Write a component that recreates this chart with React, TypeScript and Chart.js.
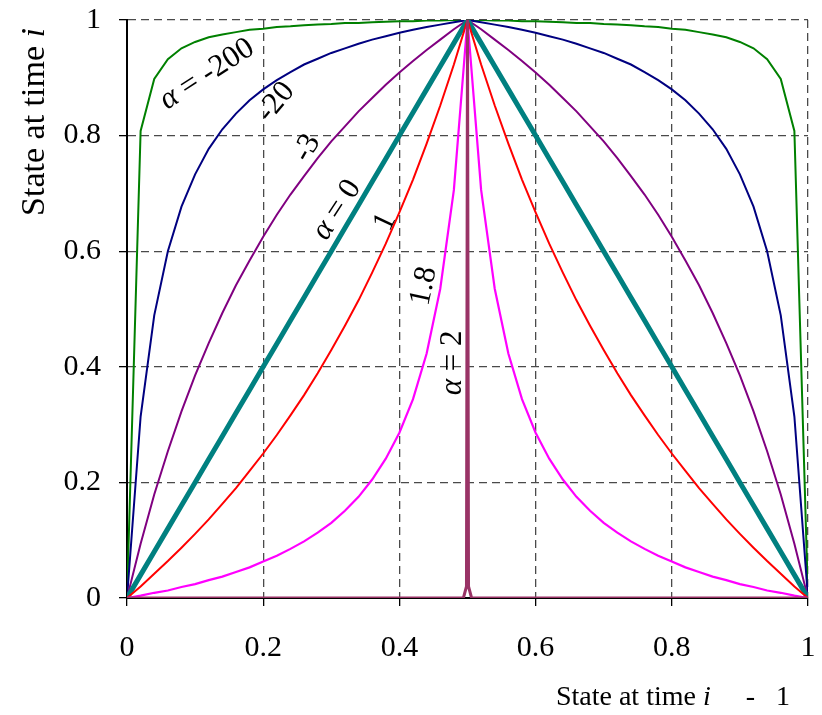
import React, { useEffect, useRef } from "react";
import { Chart, registerables } from "chart.js";

Chart.register(...registerables);

// ---------- data ----------
const xValues = [
  0, 0.02, 0.04, 0.06, 0.08, 0.1, 0.12, 0.14, 0.16, 0.18, 0.2, 0.22, 0.24, 0.26, 0.28, 0.3, 0.32,
  0.34, 0.36, 0.38, 0.4, 0.42, 0.44, 0.46, 0.48, 0.5, 0.52, 0.54, 0.56, 0.58, 0.6, 0.62, 0.64, 0.66,
  0.68, 0.7, 0.72, 0.74, 0.76, 0.78, 0.8, 0.82, 0.84, 0.86, 0.88, 0.9, 0.92, 0.94, 0.96, 0.98, 1,
];

const alphaM200 = [
  0, 0.808, 0.898, 0.932, 0.951, 0.962, 0.97, 0.975, 0.979, 0.983, 0.985, 0.988, 0.989, 0.991, 0.992,
  0.993, 0.995, 0.995, 0.996, 0.997, 0.998, 0.998, 0.999, 0.999, 1.0, 1,
  1.0, 0.999, 0.999, 0.998, 0.998, 0.997, 0.996, 0.995, 0.995, 0.993, 0.992, 0.991, 0.989, 0.988,
  0.985, 0.983, 0.979, 0.975, 0.97, 0.962, 0.951, 0.932, 0.898, 0.808, 0,
];

const alphaM20 = [
  0, 0.314, 0.489, 0.6, 0.677, 0.733, 0.777, 0.811, 0.838, 0.861, 0.88, 0.896, 0.91, 0.923, 0.933,
  0.943, 0.951, 0.959, 0.966, 0.972, 0.978, 0.983, 0.988, 0.992, 0.996, 1,
  0.996, 0.992, 0.988, 0.983, 0.978, 0.972, 0.966, 0.959, 0.951, 0.943, 0.933, 0.923, 0.91, 0.896,
  0.88, 0.861, 0.838, 0.811, 0.777, 0.733, 0.677, 0.6, 0.489, 0.314, 0,
];

const alphaM3 = [
  0, 0.094, 0.179, 0.254, 0.323, 0.385, 0.441, 0.493, 0.541, 0.584, 0.625, 0.663, 0.698, 0.73, 0.761,
  0.79, 0.816, 0.842, 0.865, 0.888, 0.909, 0.929, 0.948, 0.966, 0.984, 1,
  0.984, 0.966, 0.948, 0.929, 0.909, 0.888, 0.865, 0.842, 0.816, 0.79, 0.761, 0.73, 0.698, 0.663,
  0.625, 0.584, 0.541, 0.493, 0.441, 0.385, 0.323, 0.254, 0.179, 0.094, 0,
];

const alpha0 = [
  0, 0.04, 0.08, 0.12, 0.16, 0.2, 0.24, 0.28, 0.32, 0.36, 0.4, 0.44, 0.48, 0.52, 0.56, 0.6, 0.64,
  0.68, 0.72, 0.76, 0.8, 0.84, 0.88, 0.92, 0.96, 1,
  0.96, 0.92, 0.88, 0.84, 0.8, 0.76, 0.72, 0.68, 0.64, 0.6, 0.56, 0.52, 0.48, 0.44, 0.4, 0.36, 0.32,
  0.28, 0.24, 0.2, 0.16, 0.12, 0.08, 0.04, 0,
];

const alpha1 = [
  0, 0.02, 0.042, 0.064, 0.087, 0.111, 0.136, 0.163, 0.19, 0.22, 0.25, 0.282, 0.316, 0.351, 0.389,
  0.429, 0.471, 0.515, 0.563, 0.613, 0.667, 0.724, 0.786, 0.852, 0.923, 1,
  0.923, 0.852, 0.786, 0.724, 0.667, 0.613, 0.563, 0.515, 0.471, 0.429, 0.389, 0.351, 0.316, 0.282,
  0.25, 0.22, 0.19, 0.163, 0.136, 0.111, 0.087, 0.064, 0.042, 0.02, 0,
];

const alpha18 = [
  0, 0.004, 0.009, 0.013, 0.019, 0.024, 0.031, 0.037, 0.045, 0.053, 0.063, 0.073, 0.085, 0.098,
  0.113, 0.13, 0.151, 0.175, 0.205, 0.241, 0.286, 0.344, 0.423, 0.535, 0.706, 1,
  0.706, 0.535, 0.423, 0.344, 0.286, 0.241, 0.205, 0.175, 0.151, 0.13, 0.113, 0.098, 0.085, 0.073,
  0.063, 0.053, 0.045, 0.037, 0.031, 0.024, 0.019, 0.013, 0.009, 0.004, 0,
];

const alpha2X = [0, 0.494, 0.4985, 0.5, 0.5015, 0.506, 1];
const alpha2Y = [0, 0, 0.02, 1, 0.02, 0, 0];

const tickValues = [0, 0.2, 0.4, 0.6, 0.8, 1];
const xTickLabels = ["0", "0.2", "0.4", "0.6", "0.8", "1"];
const yTickLabels = ["0", "0.2", "0.4", "0.6", "0.8", "1"];

// text parts: [text, italic]
type Part = [string, boolean];
const annotations: { parts: Part[]; x: number; y: number; angle: number }[] = [
  { parts: [["α", true], [" = -200", false]], x: 0.1175, y: 0.906, angle: -33 },
  { parts: [["-20", false]], x: 0.2188, y: 0.858, angle: -50 },
  { parts: [["-3", false]], x: 0.2643, y: 0.7785, angle: -60 },
  { parts: [["α", true], [" = 0", false]], x: 0.3084, y: 0.6713, angle: -57 },
  { parts: [["1", false]], x: 0.3789, y: 0.6505, angle: -65 },
  { parts: [["1.8", false]], x: 0.4361, y: 0.5398, angle: -78 },
  { parts: [["α", true], [" = 2", false]], x: 0.4787, y: 0.4066, angle: -90 },
];

const xTitle: Part[] = [["State at time ", false], ["i", true], ["     -   1", false]];
const yTitle: Part[] = [["State at time ", false], ["i", true]];

const FONT = '"Liberation Serif", "Times New Roman", serif';
const TICK_SIZE = 30;
const X_TITLE_SIZE = 28;
const Y_TITLE_SIZE = 34;
const ANNOT_SIZE = 31;

function drawParts(
  ctx: CanvasRenderingContext2D,
  parts: Part[],
  x: number,
  y: number,
  angle: number,
  align: "left" | "center" | "right",
  size: number
) {
  const fonts = parts.map(([, it]) => `${it ? "italic " : ""}${size}px ${FONT}`);
  const widths = parts.map(([t], i) => {
    ctx.font = fonts[i];
    return ctx.measureText(t).width;
  });
  const total = widths.reduce((a, b) => a + b, 0);
  let start = align === "center" ? -total / 2 : align === "right" ? -total : 0;
  ctx.save();
  ctx.translate(x, y);
  ctx.rotate(angle);
  ctx.textAlign = "left";
  ctx.textBaseline = "middle";
  ctx.fillStyle = "#000";
  parts.forEach(([t], i) => {
    ctx.font = fonts[i];
    ctx.fillText(t, start, 0);
    start += widths[i];
  });
  ctx.restore();
}

const textPlugin = {
  id: "customTexts",
  afterDraw(chart: any) {
    const ctx = chart.ctx as CanvasRenderingContext2D;
    const xs = chart.scales.x;
    const ys = chart.scales.y;
    for (const a of annotations) {
      drawParts(
        ctx,
        a.parts,
        xs.getPixelForValue(a.x),
        ys.getPixelForValue(a.y),
        (a.angle * Math.PI) / 180,
        "center",
        ANNOT_SIZE
      );
    }
    drawParts(ctx, xTitle, chart.chartArea.right - 18, 698, 0, "right", X_TITLE_SIZE);
    drawParts(ctx, yTitle, 35, chart.chartArea.top + 8, -Math.PI / 2, "right", Y_TITLE_SIZE);
  },
};

function toPoints(xs: number[], ys: number[]) {
  return xs.map((x, i) => ({ x, y: ys[i] }));
}

export default function App() {
  const canvasRef = useRef<HTMLCanvasElement>(null);

  useEffect(() => {
    if (!canvasRef.current) return;
    const line = (label: string, ys: number[], color: string, width: number, xs = xValues) => ({
      label,
      data: toPoints(xs, ys),
      borderColor: color,
      backgroundColor: color,
      borderWidth: width,
      pointRadius: 0,
      tension: 0,
      fill: false,
    });

    const gridCommon = {
      color: "#4a4a4a",
      lineWidth: 1.3,
      tickLength: 8,
      tickColor: "#000",
      tickWidth: 1.3,
      drawTicks: true,
    };

    const chart = new Chart(canvasRef.current, {
      type: "line",
      data: {
        datasets: [
          line("α = 2", alpha2Y, "#993366", 3, alpha2X),
          line("α = 1.8", alpha18, "#FF00FF", 2.2),
          line("α = 1", alpha1, "#FF0000", 2),
          line("α = 0", alpha0, "#008080", 5),
          line("α = -3", alphaM3, "#800080", 2),
          line("α = -20", alphaM20, "#000080", 2),
          line("α = -200", alphaM200, "#008000", 2),
        ],
      },
      options: {
        animation: false,
        responsive: false,
        layout: { padding: { top: 20, right: 14, left: 0, bottom: 0 } },
        plugins: { legend: { display: false }, tooltip: { enabled: false } },
        scales: {
          x: {
            type: "linear",
            min: 0,
            max: 1,
            afterFit: (s: any) => {
              s.height = 117;
              s.paddingLeft = 0;
              s.paddingRight = 0;
              s.paddingTop = 0;
              s.paddingBottom = 0;
            },
            afterBuildTicks: (s: any) => {
              s.ticks = tickValues.map((v) => ({ value: v }));
            },
            ticks: {
              color: "#000",
              font: { family: FONT, size: TICK_SIZE },
              padding: 24,
              maxRotation: 0,
              autoSkip: false,
              callback: (_v: any, i: number) => xTickLabels[i],
            },
            grid: gridCommon,
            border: { display: true, color: "#000", width: 2, dash: [8, 5] },
          },
          y: {
            type: "linear",
            min: 0,
            max: 1,
            afterFit: (s: any) => {
              s.width = 127;
              s.paddingLeft = 0;
              s.paddingRight = 0;
              s.paddingTop = 0;
              s.paddingBottom = 0;
            },
            afterBuildTicks: (s: any) => {
              s.ticks = tickValues.map((v) => ({ value: v }));
            },
            ticks: {
              color: "#000",
              font: { family: FONT, size: TICK_SIZE },
              padding: 18,
              autoSkip: false,
              callback: (_v: any, i: number) => yTickLabels[i],
            },
            grid: gridCommon,
            border: { display: true, color: "#000", width: 2, dash: [8, 5] },
          },
        },
      },
      plugins: [textPlugin],
    } as any);

    return () => chart.destroy();
  }, []);

  return (
    <div style={{ position: "absolute", left: 0, top: 0, width: 822, height: 715, background: "#fff" }}>
      <canvas ref={canvasRef} width={822} height={715} style={{ display: "block" }} />
    </div>
  );
}
